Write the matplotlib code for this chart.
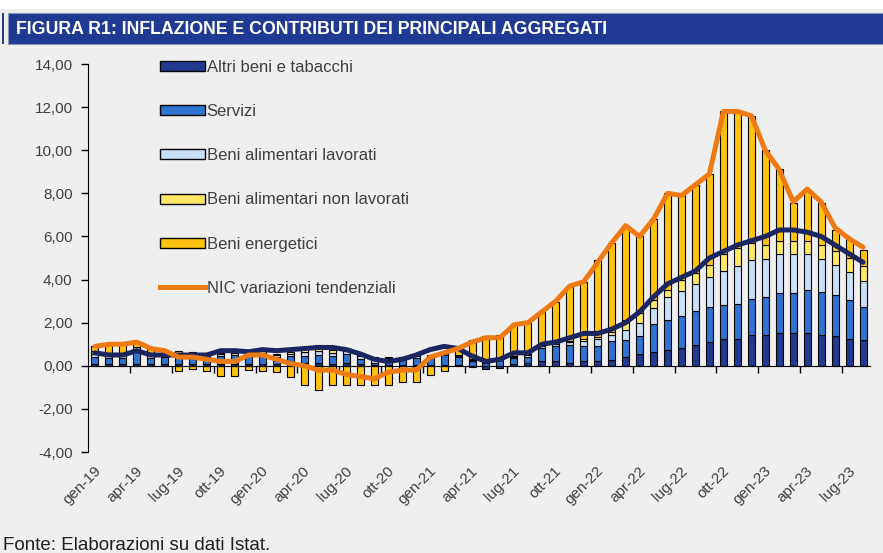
import matplotlib.pyplot as plt
import matplotlib.transforms as mtransforms
from matplotlib.patches import Rectangle, Patch
from matplotlib.lines import Line2D
import numpy as np

plt.rcParams['font.family'] = ['Liberation Sans', 'DejaVu Sans']

mesi = ['gen', 'feb', 'mar', 'apr', 'mag', 'giu', 'lug', 'ago', 'set', 'ott', 'nov', 'dic']
periodi = [f"{m}-{a}" for a in ['19', '20', '21', '22', '23'] for m in mesi][:56]

# contributi (punti percentuali)
altri_beni = [0.08, 0.08, 0.08, 0.10, 0.08, 0.08, 0.08, 0.10, 0.10, 0.10, 0.10, 0.10,
              0.10, 0.10, 0.10, 0.12, 0.12, 0.10, 0.15, 0.10, 0.05, 0.05, 0.05, 0.05,
              0.05, 0.05, 0.05, -0.05, -0.15, -0.12, 0.10, 0.15, 0.20, 0.20, 0.15, 0.20,
              0.20, 0.25, 0.43, 0.56, 0.63, 0.71, 0.82, 0.97, 1.10, 1.24, 1.26, 1.44,
              1.44, 1.52, 1.52, 1.52, 1.44, 1.36, 1.24, 1.18]
servizi = [0.35, 0.30, 0.30, 0.60, 0.30, 0.35, 0.40, 0.40, 0.30, 0.35, 0.40, 0.40,
           0.40, 0.30, 0.35, 0.35, 0.40, 0.35, 0.40, 0.20, 0.10, 0.20, 0.25, 0.30,
           0.35, 0.45, 0.35, 0.20, 0.15, 0.25, 0.25, 0.28, 0.62, 0.70, 0.80, 0.74,
           0.74, 0.88, 0.75, 0.80, 1.30, 1.42, 1.51, 1.58, 1.65, 1.59, 1.62, 1.65,
           1.75, 1.85, 1.85, 2.01, 1.96, 1.93, 1.79, 1.54]
alim_lav = [0.10, 0.10, 0.10, 0.10, 0.10, 0.10, 0.10, 0.10, 0.10, 0.10, 0.10, 0.10,
            0.10, 0.10, 0.10, 0.15, 0.15, 0.15, 0.15, 0.15, 0.15, 0.10, 0.10, 0.10,
            0.05, 0.05, 0.05, 0.05, 0.05, 0.05, 0.05, 0.06, 0.08, 0.10, 0.15, 0.23,
            0.30, 0.31, 0.49, 0.62, 0.75, 1.06, 1.16, 1.24, 1.39, 1.58, 1.73, 1.83,
            1.77, 1.81, 1.81, 1.65, 1.56, 1.40, 1.30, 1.19]
alim_non_lav = [0.15, 0.10, 0.05, 0.05, 0.10, 0.10, 0.10, 0.05, 0.05, 0.05, 0.10, 0.10,
                0.10, 0.05, 0.10, 0.25, 0.30, 0.15, 0.10, 0.10, 0.10, 0.05, 0.00, 0.00,
                0.05, 0.05, 0.05, 0.05, 0.05, 0.00, 0.05, 0.04, 0.06, 0.08, 0.07, 0.09,
                0.09, 0.15, 0.46, 0.46, 0.38, 0.34, 0.50, 0.51, 0.55, 0.79, 0.85, 0.77,
                0.62, 0.62, 0.59, 0.59, 0.62, 0.65, 0.67, 0.70]
energetici = [0.22, 0.42, 0.47, 0.25, 0.22, 0.07, -0.22, -0.15, -0.22, -0.46, -0.46, -0.19,
              -0.23, -0.30, -0.50, -0.88, -1.11, -0.90, -0.90, -0.90, -0.90, -0.88, -0.73, -0.73,
              -0.42, -0.26, 0.30, 0.90, 1.15, 1.15, 1.45, 1.47, 1.54, 1.90, 2.50, 2.64,
              3.59, 4.11, 4.37, 3.56, 3.74, 4.47, 3.91, 4.10, 4.21, 6.60, 6.34, 5.91,
              4.42, 3.33, 1.78, 2.40, 1.97, 0.97, 0.90, 0.77]

# NIC variazioni tendenziali
nic = [0.9, 1.0, 1.0, 1.1, 0.8, 0.7, 0.4, 0.4, 0.3, 0.2, 0.2, 0.5,
       0.5, 0.3, 0.1, 0.0, -0.2, -0.2, -0.4, -0.5, -0.6, -0.3, -0.2, -0.2,
       0.4, 0.6, 0.8, 1.1, 1.3, 1.3, 1.9, 2.0, 2.5, 3.0, 3.7, 3.9,
       4.8, 5.7, 6.5, 6.0, 6.8, 8.0, 7.9, 8.4, 8.9, 11.8, 11.8, 11.6,
       10.0, 9.1, 7.6, 8.2, 7.6, 6.4, 5.9, 5.5]
# inflazione di fondo (linea blu scuro, fuori legenda)
fondo = [0.6, 0.5, 0.5, 0.7, 0.5, 0.5, 0.5, 0.5, 0.5, 0.7, 0.7, 0.65,
         0.75, 0.7, 0.75, 0.8, 0.85, 0.85, 0.75, 0.55, 0.3, 0.2, 0.3, 0.5,
         0.75, 0.9, 0.8, 0.45, 0.2, 0.3, 0.6, 0.6, 1.0, 1.1, 1.3, 1.5,
         1.5, 1.7, 2.0, 2.5, 3.2, 3.8, 4.1, 4.4, 5.0, 5.3, 5.6, 5.8,
         6.0, 6.3, 6.3, 6.2, 6.0, 5.6, 5.2, 4.8]

serie = [('Altri beni e tabacchi', altri_beni, '#1f3a8f'),
         ('Servizi', servizi, '#2e74d0'),
         ('Beni alimentari lavorati', alim_lav, '#c8dff8'),
         ('Beni alimentari non lavorati', alim_non_lav, '#ffe866'),
         ('Beni energetici', energetici, '#ffc20e')]

bg = '#efefef'
txt = '#404040'

fig = plt.figure(figsize=(8.83, 5.53), dpi=100, facecolor=bg)
W, H = 883, 553
ax = fig.add_axes([88 / W, 1 - 452 / H, (870 - 88) / W, (452 - 64) / H])
ax.set_facecolor(bg)

x = np.arange(len(periodi))
pos_base = np.zeros(len(x))
neg_base = np.zeros(len(x))
for nome, vals, col in serie:
    v = np.array(vals)
    base = np.where(v >= 0, pos_base, neg_base)
    ax.bar(x, v, bottom=base, width=0.5, color=col, edgecolor='black', linewidth=0.8, zorder=2)
    pos_base += np.where(v >= 0, v, 0)
    neg_base += np.where(v < 0, v, 0)

ax.plot(x, fondo, color='#1b2560', lw=3.6, zorder=3, solid_capstyle='round')
ax.plot(x, nic, color='#f07a12', lw=3.6, zorder=4, solid_capstyle='round')

ax.set_xlim(-0.5, len(x) - 0.5)
ax.set_ylim(-4, 14)
ax.set_yticks(np.arange(-4, 15, 2))
ax.set_yticklabels([f"{v:.2f}".replace('.', ',') for v in np.arange(-4, 15, 2)],
                   color=txt, fontsize=11)
ax.tick_params(axis='y', direction='out', length=5, width=1, pad=6)

for s in ['top', 'right']:
    ax.spines[s].set_visible(False)
ax.spines['left'].set_color('black')
ax.spines['bottom'].set_position(('data', 0))
ax.spines['bottom'].set_color('black')

ax.set_xticks(np.arange(-0.5, len(x), 3)[1:])
ax.set_xticklabels([])
ax.tick_params(axis='x', direction='out', length=5, width=1)

trans = mtransforms.blended_transform_factory(ax.transData, ax.transAxes)
for i in range(0, len(x), 3):
    ax.text(i - 0.1, -0.03, periodi[i], transform=trans, rotation=45, ha='right', va='top',
            rotation_mode='anchor', fontsize=11, color=txt)

handles = [Patch(facecolor=c, edgecolor='black', linewidth=1, label=n) for n, _, c in serie]
handles.append(Line2D([], [], color='#f07a12', lw=3.6, label='NIC variazioni tendenziali'))
leg = ax.legend(handles=handles, loc='upper left', bbox_to_anchor=(145 / W, 1 - 45 / H),
                bbox_transform=fig.transFigure, frameon=False, fontsize=12,
                labelspacing=1.75, handlelength=2.7, handleheight=0.55, handletextpad=0.1)
for t in leg.get_texts():
    t.set_color(txt)

# testata
fig.patches.append(Rectangle((0, 1 - 9 / H), 1, 9 / H, transform=fig.transFigure,
                             facecolor='white', edgecolor='none', zorder=0))
fig.patches.append(Rectangle((8 / W, 1 - 44 / H), 1, 31 / H, transform=fig.transFigure,
                             facecolor='#1f3a93', edgecolor='#8a94b8', linewidth=0.8, zorder=1))
fig.patches.append(Rectangle((2 / W, 1 - 44 / H), 2 / W, 31 / H, transform=fig.transFigure,
                             facecolor='#2a3d8f', edgecolor='none', zorder=1))
fig.text(16 / W, 1 - 29 / H, 'FIGURA R1: INFLAZIONE E CONTRIBUTI DEI PRINCIPALI AGGREGATI',
         color='white', fontsize=12.8, fontweight='bold', va='center', ha='left')

fig.text(3 / W, 1 - 545 / H, 'Fonte: Elaborazioni su dati Istat.', color='#202020',
         fontsize=13.5, va='center', ha='left')

fig.savefig('out.png', dpi=100, facecolor=bg)
